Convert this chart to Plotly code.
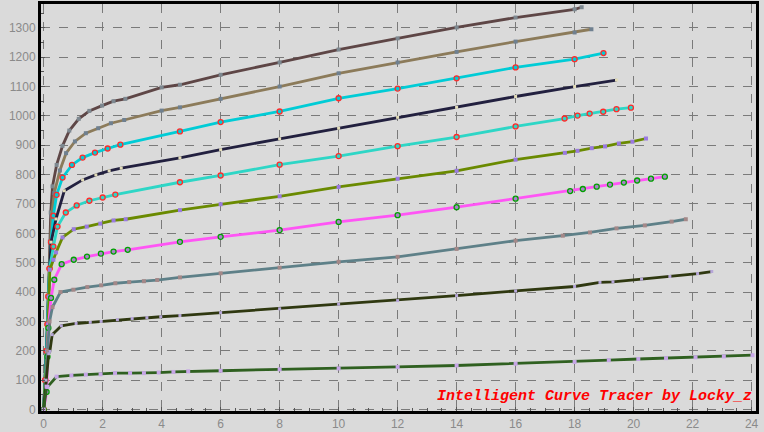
import plotly.graph_objects as go

# ---- data (x = voltage-like, y = current-like) ----
c1_x = [0, 0.05, 0.11, 0.14, 0.16, 0.19, 0.21, 0.24, 0.30, 0.44, 0.64, 0.87, 1.19, 1.55, 1.98, 2.37, 2.77, 4.0, 4.62, 6, 8, 10, 12, 14, 16, 18, 18.24]
c1_y = [0, 100, 195, 289, 384, 480, 572, 671, 760, 833, 898, 950, 990, 1017, 1035, 1050, 1058, 1097, 1106, 1140, 1182, 1226, 1264, 1301, 1335, 1363, 1370]

c2_x = [0, 0.05, 0.10, 0.13, 0.16, 0.19, 0.22, 0.27, 0.36, 0.55, 0.76, 1.06, 1.43, 1.85, 2.28, 2.73, 4.0, 4.62, 6, 8, 10, 12, 14, 16, 18, 18.57]
c2_y = [0, 100, 200, 290, 385, 480, 570, 660, 737, 814, 873, 913, 941, 958, 975, 986, 1018, 1029, 1058, 1100, 1145, 1182, 1218, 1253, 1284, 1295]

c3_x = [0, 0.05, 0.10, 0.13, 0.16, 0.20, 0.25, 0.33, 0.44, 0.64, 0.96, 1.32, 1.74, 2.17, 2.60, 4.62, 6, 8, 10, 12, 14, 16, 18, 18.98]
c3_y = [0, 100, 200, 290, 385, 480, 570, 660, 731, 790, 833, 858, 875, 889, 902, 947, 979, 1015, 1060, 1093, 1128, 1165, 1193, 1214]

c4_x = [0, 0.05, 0.10, 0.13, 0.16, 0.20, 0.25, 0.42, 0.70, 1.32, 1.77, 2.22, 2.63, 4.62, 6, 8, 10, 12, 14, 16, 18, 19.42]
c4_y = [0, 100, 200, 290, 385, 480, 570, 649, 745, 782, 799, 813, 822, 857, 885, 922, 958, 995, 1029, 1066, 1100, 1122]

c5_x = [0, 0.06, 0.10, 0.13, 0.16, 0.20, 0.33, 0.47, 0.75, 1.12, 1.55, 2.0, 2.43, 4.62, 6, 8, 10, 12, 14, 16, 17.66, 18.1, 18.51, 18.97, 19.42, 19.91]
c5_y = [0, 100, 200, 290, 385, 480, 555, 623, 671, 695, 711, 722, 732, 774, 797, 834, 863, 897, 928, 964, 991, 1001, 1008, 1014, 1023, 1028]

c6_x = [0, 0.07, 0.12, 0.15, 0.18, 0.21, 0.33, 0.42, 0.64, 1.02, 1.46, 1.92, 2.37, 2.78, 4.62, 6, 8, 10, 12, 14, 16, 17.67, 18.1, 18.58, 19.03, 19.5, 19.96, 20.42]
c6_y = [0, 100, 200, 290, 385, 476, 510, 535, 586, 614, 623, 633, 644, 648, 679, 699, 726, 758, 786, 813, 851, 874, 881, 890, 896, 906, 912, 923]

c7_x = [0, 0.10, 0.13, 0.16, 0.25, 0.36, 0.61, 1.02, 1.47, 1.94, 2.37, 2.85, 4.62, 6, 8, 10, 12, 14, 16, 17.85, 18.28, 18.75, 19.2, 19.67, 20.12, 20.59, 21.06]
c7_y = [0, 60, 180, 278, 380, 442, 495, 510, 521, 531, 538, 544, 571, 588, 611, 639, 662, 689, 718, 744, 751, 759, 766, 773, 780, 786, 793]

c8_x = [0, 0.08, 0.13, 0.20, 0.30, 0.57, 1.01, 1.48, 1.95, 2.43, 2.9, 3.4, 3.85, 4.62, 6, 8, 10, 12, 14, 16, 17.6, 18.52, 19.42, 20.38, 21.29, 21.77]
c8_y = [0, 100, 200, 300, 349, 400, 408, 417, 423, 430, 434, 437, 441, 450, 464, 483, 503, 520, 547, 575, 592, 603, 617, 627, 640, 648]

c9_x = [0, 0.08, 0.17, 0.21, 0.29, 0.60, 1.10, 1.58, 1.95, 2.5, 3.0, 3.5, 3.97, 4.62, 6, 8, 10, 12, 14, 16, 18, 18.86, 19.3, 20.27, 21.23, 22.17, 22.65]
c9_y = [0, 100, 190, 198, 255, 285, 293, 297, 300, 306, 310, 313, 316, 320, 330, 343, 359, 371, 388, 404, 419, 433, 435, 444, 453, 463, 470]

c10_x = [0, 0.10, 0.13, 0.44, 0.94, 1.43, 1.93, 2.42, 2.93, 3.4, 3.9, 4.4, 4.9, 6, 8, 10, 12, 14, 16, 18, 19.16, 20.16, 21.1, 22.1, 23.06, 24.03]
c10_y = [0, 78, 77, 112, 116, 119, 120, 124, 124, 124, 126, 128, 130, 132, 137, 140, 145, 150, 156, 162, 168, 172, 175, 178, 181, 185]

x_ticks = [0, 2, 4, 6, 8, 10, 12, 14, 16, 18, 20, 22, 24]
y_ticks = [0, 100, 200, 300, 400, 500, 600, 700, 800, 900, 1000, 1100, 1200, 1300]
watermark = "Intelligent Curve Tracer by Locky_z"

series = [
    (c1_x, c1_y, "#5e4646", dict(symbol="square", size=4, color="#7d8890")),
    (c2_x, c2_y, "#8c7b5a", dict(symbol="square", size=4, color="#6f8090")),
    (c3_x, c3_y, "#00ccd6", dict(symbol="circle", size=5, color="#00ccd6", line=dict(color="#ff2a2a", width=1.3))),
    (c4_x, c4_y, "#22203f", dict(symbol="square", size=3, color="#e2dcb8")),
    (c5_x, c5_y, "#2ed6c6", dict(symbol="circle", size=5, color="#2ed6c6", line=dict(color="#ff2a2a", width=1.3))),
    (c6_x, c6_y, "#6a8a00", dict(symbol="square", size=4, color="#9a7ae0")),
    (c7_x, c7_y, "#ff55f5", dict(symbol="circle", size=5, color="#a884c8", line=dict(color="#00a000", width=1.3))),
    (c8_x, c8_y, "#5e8088", dict(symbol="square", size=4, color="#a48888")),
    (c9_x, c9_y, "#2f3810", dict(symbol="square", size=3, color="#b6a6d8")),
    (c10_x, c10_y, "#2f6020", dict(symbol="square", size=4, color="#c6a6e6")),
]

fig = go.Figure()
for xs, ys, lc, mk in series:
    fig.add_trace(go.Scatter(x=xs, y=ys, mode="lines+markers",
                             line=dict(color=lc, width=2.8),
                             marker=mk, showlegend=False, hoverinfo="skip"))

fig.add_annotation(text=watermark, xref="paper", yref="paper",
                   x=0.997, y=0.01, xanchor="right", yanchor="bottom",
                   showarrow=False,
                   font=dict(family="Liberation Mono", size=15, color="#ff0000",
                             style="italic", weight="bold"))

axis_common = dict(showgrid=True, gridcolor="#7a7a7a", griddash="dash", gridwidth=1,
                   zeroline=False, showline=True, linecolor="#000000", mirror=True,
                   ticks="inside", ticklen=4, tickcolor="#555555", automargin=False,
                   tickfont=dict(family="Liberation Sans", size=12, color="#8a8a8a"))

fig.update_xaxes(range=[-0.09, 24.15], tickvals=x_ticks, linewidth=3,
                 minor=dict(dtick=0.5, ticks="inside", ticklen=3, tickcolor="#555555", showgrid=False),
                 **axis_common)
fig.update_yaxes(range=[-5, 1381], tickvals=y_ticks, linewidth=3,
                 minor=dict(dtick=50, ticks="inside", ticklen=3, tickcolor="#555555", showgrid=False),
                 **axis_common)

fig.update_layout(width=764, height=432,
                  margin=dict(l=41, r=8, t=4, b=21),
                  paper_bgcolor="#dadada", plot_bgcolor="#dadada")

fig.write_html("out.html", config={"displayModeBar": False},
               post_script="document.body.style.margin='0';document.body.style.background='#dadada';")
